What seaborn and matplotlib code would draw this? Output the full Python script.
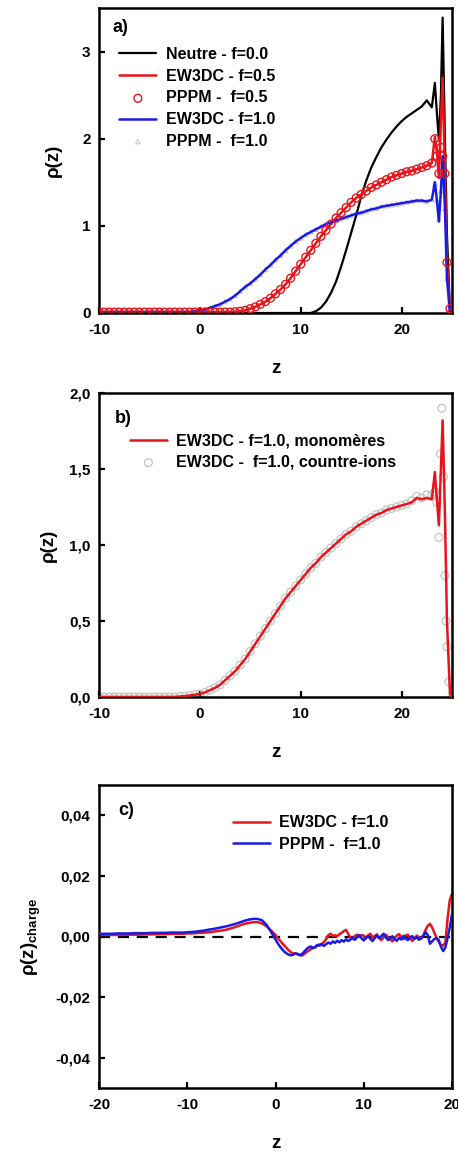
import numpy as np
import pandas as pd
import matplotlib
matplotlib.use("Agg")
import matplotlib.pyplot as plt
from matplotlib.ticker import FuncFormatter, FixedLocator
import seaborn as sns

sns.set_style("ticks")
plt.rcParams['font.family'] = ['Liberation Sans', 'DejaVu Sans']
plt.rcParams['font.weight'] = 'bold'
plt.rcParams['mathtext.fontset'] = 'custom'
plt.rcParams['mathtext.rm'] = 'Liberation Sans'
plt.rcParams['axes.unicode_minus'] = False
for k in ['text.color', 'axes.labelcolor', 'xtick.color', 'ytick.color', 'axes.edgecolor']:
    plt.rcParams[k] = 'black'

# ---------------- Panel a data ----------------
z_a = np.concatenate([np.arange(-10, 23.01, 0.5),
                      [23.3, 23.5, 23.7, 23.9, 24.07, 24.3, 24.5, 24.8, 25.0]])

neutre_f00 = [0.0] * 42 + [
    0.0, 0.02, 0.06, 0.13, 0.23, 0.36, 0.53, 0.72, 0.92, 1.12, 1.34, 1.52, 1.67,
    1.79, 1.90, 1.99, 2.07, 2.14, 2.20, 2.25, 2.29, 2.33, 2.37, 2.44, 2.36,
    2.64, 2.30, 1.98, 2.50, 3.39, 2.00, 0.90, 0.02, 0.0]

ew3dc_f05 = [0.01] * 26 + [
    0.01, 0.015, 0.02, 0.03, 0.05, 0.07, 0.10, 0.13, 0.17, 0.22, 0.27, 0.33, 0.40,
    0.48, 0.56, 0.64, 0.72, 0.80, 0.88, 0.95, 1.02, 1.09, 1.15, 1.21, 1.27, 1.32,
    1.36, 1.40, 1.44, 1.47, 1.50, 1.53, 1.56, 1.58, 1.60, 1.62, 1.63, 1.65, 1.67,
    1.69, 1.72,
    2.02, 1.85, 1.55, 2.20, 2.70, 1.60, 0.58, 0.05, 0.0]

pppm_f05 = [0.01] * 26 + [
    0.01, 0.015, 0.02, 0.03, 0.05, 0.07, 0.10, 0.13, 0.17, 0.22, 0.27, 0.33, 0.40,
    0.48, 0.56, 0.64, 0.72, 0.80, 0.88, 0.95, 1.02, 1.09, 1.15, 1.21, 1.27, 1.32,
    1.36, 1.40, 1.44, 1.47, 1.50, 1.53, 1.56, 1.58, 1.60, 1.62, 1.63, 1.65, 1.67,
    1.69, 1.72,
    2.00, 1.80, 1.60, 1.90, 1.80, 1.60, 0.58, 0.05, 0.0]

ew3dc_f10 = [0.01] * 19 + [
    0.02, 0.03, 0.04, 0.06, 0.08, 0.10, 0.13, 0.16, 0.20, 0.25, 0.30, 0.34, 0.39,
    0.44, 0.50, 0.55, 0.61, 0.66, 0.72, 0.77, 0.82, 0.86, 0.90, 0.93, 0.96, 0.99,
    1.02, 1.04, 1.06, 1.08, 1.10, 1.12, 1.14, 1.15, 1.17, 1.19, 1.20, 1.22, 1.23,
    1.24, 1.25, 1.26, 1.27, 1.28, 1.29, 1.29, 1.28, 1.30,
    1.50, 1.30, 1.05, 1.40, 1.80, 1.20, 0.40, 0.0, 0.0]

pppm_f10 = [0.01] * 19 + [
    0.02, 0.03, 0.04, 0.06, 0.08, 0.10, 0.13, 0.16, 0.20, 0.25, 0.30, 0.34, 0.39,
    0.44, 0.50, 0.55, 0.61, 0.66, 0.72, 0.77, 0.82, 0.86, 0.90, 0.93, 0.96, 0.99,
    1.02, 1.04, 1.06, 1.08, 1.10, 1.12, 1.14, 1.15, 1.17, 1.19, 1.20, 1.22, 1.23,
    1.24, 1.25, 1.26, 1.27, 1.28, 1.29, 1.29, 1.28, 1.30,
    1.48, 1.30, 1.08, 1.40, 1.75, 1.20, 0.40, 0.0, 0.0]

# ---------------- Panel b data ----------------
z_b = z_a
monomeres = [0.0] * 16 + [
    0.003, 0.006, 0.01, 0.015, 0.02, 0.03, 0.045, 0.06, 0.08, 0.11, 0.14, 0.17,
    0.21, 0.25, 0.30, 0.35, 0.40, 0.45, 0.50, 0.55, 0.60, 0.65, 0.69, 0.73, 0.77,
    0.81, 0.85, 0.88, 0.92, 0.95, 0.98, 1.01, 1.04, 1.07, 1.09, 1.12, 1.14, 1.16,
    1.18, 1.20, 1.21, 1.23, 1.24, 1.25, 1.26, 1.27, 1.28, 1.31, 1.30, 1.31, 1.30,
    1.48, 1.30, 1.13, 1.50, 1.82, 1.20, 0.50, 0.02, 0.0]

z_b_ions = np.concatenate([np.arange(-10, 23.01, 0.5),
                           [23.3, 23.5, 23.7, 23.85, 24.0, 24.15, 24.3, 24.4, 24.5, 24.7, 25.0]])
countre_ions = [0.0] * 16 + [
    0.003, 0.006, 0.01, 0.015, 0.02, 0.03, 0.045, 0.06, 0.08, 0.11, 0.14, 0.17,
    0.21, 0.25, 0.30, 0.35, 0.40, 0.45, 0.50, 0.55, 0.60, 0.65, 0.69, 0.73, 0.77,
    0.81, 0.85, 0.88, 0.92, 0.95, 0.98, 1.01, 1.04, 1.07, 1.09, 1.12, 1.14, 1.16,
    1.18, 1.20, 1.21, 1.23, 1.24, 1.25, 1.26, 1.27, 1.29, 1.32, 1.31, 1.33, 1.33,
    1.35, 1.28, 1.05, 1.60, 1.90, 1.45, 0.80, 0.50, 0.33, 0.10, 0.0]

# ---------------- Panel c data ----------------
z_c = np.concatenate([np.arange(-20, -0.49, 0.5), np.arange(0, 20.01, 0.25)])
charge_ew3dc = [
    0.0005, 0.0005, 0.0005, 0.0005, 0.0005, 0.0005, 0.0006, 0.0006, 0.0006, 0.0006,
    0.0007, 0.0007, 0.0007, 0.0007, 0.0008, 0.0008, 0.0008, 0.0009, 0.0009, 0.0009,
    0.0010, 0.0010, 0.0011, 0.0012, 0.0013, 0.0014, 0.0016, 0.0018, 0.0020, 0.0023,
    0.0027, 0.0032, 0.0037, 0.0042, 0.0045, 0.0047, 0.0047, 0.0043, 0.0033, 0.0020,
    0.0005, -0.0005, -0.0013, -0.0022, -0.0030, -0.0038, -0.0046, -0.0052, -0.0056, -0.0055,
    -0.0058, -0.0060, -0.0063, -0.0058, -0.0052, -0.0047, -0.0042, -0.0038, -0.0036, -0.0030,
    -0.0026, -0.0024, -0.0018, -0.0008, 0.0005, 0.0009, 0.0002, 0.0004, 0.0001, 0.0008,
    0.0012, 0.0018, 0.0022, 0.0008, -0.0004, -0.0008, 0.0002, 0.0006, -0.0002, 0.0005,
    0.0003, -0.0006, 0.0004, 0.0009, -0.0004, 0.0002, 0.0007, -0.0005, -0.0012, -0.0002,
    0.0006, -0.0003, -0.0010, -0.0016, -0.0004, 0.0003, 0.0008, -0.0002, -0.0009, 0.0004,
    0.0006, -0.0004, -0.0015, -0.0006, 0.0003, -0.0002, -0.0008, 0.0004, 0.0022, 0.0035,
    0.0042, 0.0030, 0.0012, -0.0004, -0.0018, -0.0028, -0.0030, -0.0020, 0.0060, 0.0120,
    0.0140]
charge_pppm = [
    0.0009, 0.0009, 0.0009, 0.0009, 0.0010, 0.0010, 0.0010, 0.0010, 0.0011, 0.0011,
    0.0011, 0.0011, 0.0012, 0.0012, 0.0012, 0.0012, 0.0013, 0.0013, 0.0013, 0.0013,
    0.0014, 0.0015, 0.0016, 0.0018, 0.0020, 0.0023, 0.0025, 0.0028, 0.0031, 0.0034,
    0.0038, 0.0042, 0.0047, 0.0052, 0.0056, 0.0058, 0.0058, 0.0053, 0.0038, 0.0015,
    -0.0010, -0.0022, -0.0033, -0.0042, -0.0050, -0.0056, -0.0060, -0.0062, -0.0060, -0.0056,
    -0.0058, -0.0062, -0.0058, -0.0050, -0.0042, -0.0036, -0.0033, -0.0038, -0.0034, -0.0028,
    -0.0030, -0.0026, -0.0031, -0.0025, -0.0020, -0.0024, -0.0016, -0.0021, -0.0014, -0.0019,
    -0.0012, -0.0017, -0.0009, -0.0015, -0.0010, -0.0004, -0.0011, -0.0002, 0.0005, -0.0006,
    -0.0013, -0.0004, 0.0002, -0.0008, -0.0015, -0.0005, 0.0003, -0.0006, 0.0002, 0.0009,
    -0.0002, -0.0012, -0.0006, 0.0001, -0.0009, -0.0014, -0.0004, -0.0010, 0.0002, -0.0007,
    -0.0012, -0.0003, 0.0001, -0.0008, -0.0002, -0.0011, -0.0004, 0.0002, 0.0014, 0.0005,
    -0.0024, -0.0016, -0.0008, -0.0006, -0.0012, -0.0034, -0.0048, -0.0036, -0.0005, 0.0030,
    0.0075]

for arr, zz in [(neutre_f00, z_a), (ew3dc_f05, z_a), (pppm_f05, z_a), (ew3dc_f10, z_a),
                (pppm_f10, z_a), (monomeres, z_b), (countre_ions, z_b_ions),
                (charge_ew3dc, z_c), (charge_pppm, z_c)]:
    assert len(arr) == len(zz), (len(arr), len(zz))

RED = "#e8141b"
BLUE = "#1a1ae6"
TICK_FS = 11
LEG_FS = 11.5
LAB_FS = 13.5

W, H = 458, 1154
fig = plt.figure(figsize=(W / 100, H / 100), dpi=100)

def box(top, bottom, left=99, right=452):
    return [left / W, 1 - bottom / H, (right - left) / W, (bottom - top) / H]

ax_a = fig.add_axes(box(8, 313))
ax_b = fig.add_axes(box(393, 697))
ax_c = fig.add_axes(box(785, 1088))

def style(ax):
    for s in ax.spines.values():
        s.set_linewidth(1.8)
        s.set_color('black')
    ax.tick_params(direction='in', length=4.5, width=1.6, labelsize=TICK_FS,
                   top=False, right=False)
    ax.tick_params(axis='x', pad=7)
    ax.tick_params(axis='y', pad=6)
    for lab in ax.get_xticklabels() + ax.get_yticklabels():
        lab.set_fontweight('bold')

def comma(dec):
    def f(v, p):
        s = f"{v:.{dec}f}".replace('.', ',')
        if s.startswith('-') and float(s[1:].replace(',', '.')) == 0:
            s = s[1:]
        return s
    return FuncFormatter(f)

leg_kw = dict(loc='upper left', frameon=False, prop={'weight': 'bold', 'size': LEG_FS},
              handlelength=2.3, handletextpad=0.6, labelspacing=0.42,
              borderpad=0, borderaxespad=0)

# ---- panel a
da = pd.DataFrame({'z': z_a, 'n': neutre_f00, 'e05': ew3dc_f05, 'p05': pppm_f05,
                   'e10': ew3dc_f10, 'p10': pppm_f10})
sns.lineplot(data=da, x='z', y='n', ax=ax_a, color='black', lw=1.6, sort=False,
             estimator=None, label='Neutre - f=0.0')
sns.lineplot(data=da, x='z', y='e05', ax=ax_a, color=RED, lw=1.8, sort=False,
             estimator=None, label='EW3DC - f=0.5')
sns.scatterplot(data=da, x='z', y='p05', ax=ax_a, marker='o', s=32, facecolor='none',
                edgecolor=RED, linewidth=1.0, label='PPPM -  f=0.5', zorder=3)
sns.lineplot(data=da, x='z', y='e10', ax=ax_a, color=BLUE, lw=1.8, sort=False,
             estimator=None, label='EW3DC - f=1.0')
sns.scatterplot(data=da, x='z', y='p10', ax=ax_a, marker='^', s=10, facecolor='none',
                edgecolor='#b8b8d0', linewidth=0.6, label='PPPM -  f=1.0', zorder=1)
ax_a.set_xlim(-10, 25)
ax_a.set_ylim(0, 3.5)
ax_a.xaxis.set_major_locator(FixedLocator([-10, 0, 10, 20]))
ax_a.yaxis.set_major_locator(FixedLocator([0, 1, 2, 3]))
ax_a.set_xlabel('z', fontsize=LAB_FS, fontweight='bold')
ax_a.set_ylabel('ρ(z)', fontsize=LAB_FS, fontweight='bold')
ax_a.text(0.038, 0.965, 'a)', transform=ax_a.transAxes, fontsize=13,
          fontweight='bold', va='top', ha='left')
ax_a.legend(bbox_to_anchor=(0.058, 0.872), **leg_kw)

# ---- panel b
db = pd.DataFrame({'z': z_b, 'm': monomeres})
di = pd.DataFrame({'z': z_b_ions, 'c': countre_ions})
sns.lineplot(data=db, x='z', y='m', ax=ax_b, color=RED, lw=1.8, sort=False,
             estimator=None, label='EW3DC - f=1.0, monomères', zorder=3)
sns.scatterplot(data=di, x='z', y='c', ax=ax_b, marker='o', s=32, facecolor='none',
                edgecolor='#c4c4c4', linewidth=0.9, label='EW3DC -  f=1.0, countre-ions',
                zorder=2)
ax_b.set_xlim(-10, 25)
ax_b.set_ylim(0, 2.0)
ax_b.xaxis.set_major_locator(FixedLocator([-10, 0, 10, 20]))
ax_b.yaxis.set_major_locator(FixedLocator([0, 0.5, 1.0, 1.5, 2.0]))
ax_b.yaxis.set_major_formatter(comma(1))
ax_b.set_xlabel('z', fontsize=LAB_FS, fontweight='bold')
ax_b.set_ylabel('ρ(z)', fontsize=LAB_FS, fontweight='bold')
ax_b.text(0.045, 0.945, 'b)', transform=ax_b.transAxes, fontsize=13,
          fontweight='bold', va='top', ha='left')
ax_b.legend(bbox_to_anchor=(0.088, 0.868), **leg_kw)

# ---- panel c
dc = pd.DataFrame({'z': z_c, 'e': charge_ew3dc, 'p': charge_pppm})
ax_c.axhline(0, color='black', lw=1.6, ls=(0, (5, 3.5)), zorder=1)
sns.lineplot(data=dc, x='z', y='e', ax=ax_c, color=RED, lw=1.8, sort=False,
             estimator=None, label='EW3DC - f=1.0', zorder=2)
sns.lineplot(data=dc, x='z', y='p', ax=ax_c, color=BLUE, lw=1.8, sort=False,
             estimator=None, label='PPPM -  f=1.0', zorder=3)
ax_c.set_xlim(-20, 20)
ax_c.set_ylim(-0.05, 0.05)
ax_c.xaxis.set_major_locator(FixedLocator([-20, -10, 0, 10, 20]))
ax_c.yaxis.set_major_locator(FixedLocator([-0.04, -0.02, 0.0, 0.02, 0.04]))
ax_c.yaxis.set_major_formatter(comma(2))
ax_c.set_xlabel('z', fontsize=LAB_FS, fontweight='bold')
ax_c.set_ylabel(r'ρ(z)$_{\mathregular{charge}}$', fontsize=LAB_FS, fontweight='bold')
ax_c.text(0.055, 0.945, 'c)', transform=ax_c.transAxes, fontsize=13,
          fontweight='bold', va='top', ha='left')
ax_c.legend(bbox_to_anchor=(0.38, 0.9), **leg_kw)

for ax in (ax_a, ax_b, ax_c):
    style(ax)
    ax.xaxis.set_label_coords(0.5, -0.155)

ax_a.yaxis.set_label_coords(-0.105, 0.5)
ax_b.yaxis.set_label_coords(-0.12, 0.5)
ax_c.yaxis.set_label_coords(-0.16, 0.5)

fig.savefig('out.png', dpi=100)
